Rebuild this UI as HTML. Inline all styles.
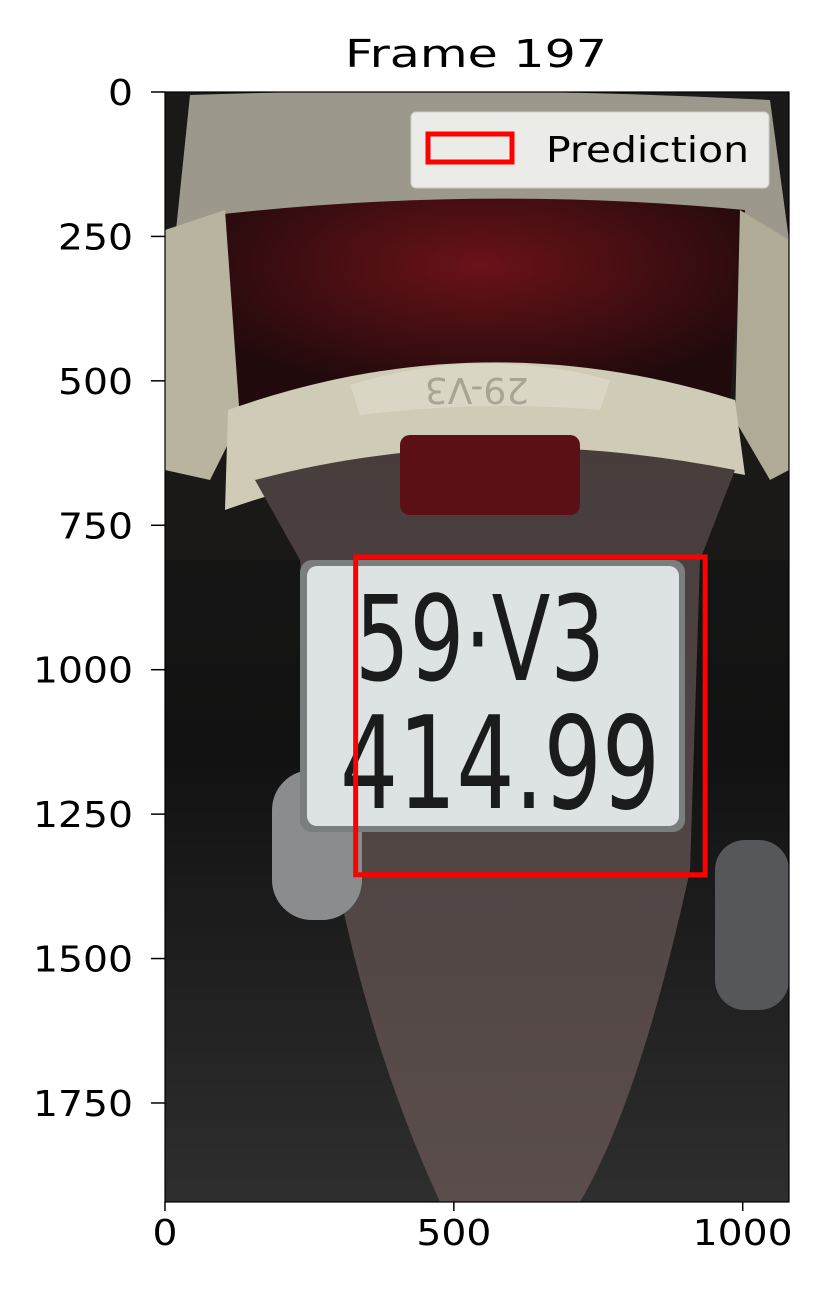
<!DOCTYPE html>
<html><head><meta charset="utf-8"><style>
html,body{margin:0;padding:0;background:#fff;}
svg{display:block;font-family:"DejaVu Sans","Liberation Sans",sans-serif;}
</style></head><body>
<svg width="825" height="1302" viewBox="0 0 825 1302">
<defs>
<linearGradient id="bg" x1="0" y1="0" x2="0" y2="1"><stop offset="0" stop-color="#1c1b19"/><stop offset="0.6" stop-color="#121212"/><stop offset="1" stop-color="#2e2e2e"/></linearGradient>
<linearGradient id="fender" x1="0" y1="0" x2="0" y2="1"><stop offset="0" stop-color="#473d3c"/><stop offset="1" stop-color="#5a4d4c"/></linearGradient>
<radialGradient id="red" cx="0.5" cy="0.3" r="0.6"><stop offset="0" stop-color="#6a1219"/><stop offset="1" stop-color="#200a0b"/></radialGradient>
<clipPath id="plot"><rect x="165" y="92" width="624" height="1110"/></clipPath>
</defs>
<text x="476" y="67" text-anchor="middle" font-size="38" textLength="262" lengthAdjust="spacingAndGlyphs">Frame 197</text>
<g clip-path="url(#plot)">
<rect x="165" y="92" width="624" height="1110" fill="url(#bg)"/>
<path d="M165 92 H789 V560 H165 Z" fill="#1a1918"/>
<path d="M190 95 Q480 85 770 100 L789 240 Q480 180 175 240 Z" fill="#9c998c"/>
<path d="M215 215 Q480 185 745 210 L730 400 Q480 330 235 420 Z" fill="url(#red)"/>
<path d="M165 230 L225 210 L240 420 L210 480 L165 470 Z" fill="#b8b4a0"/>
<path d="M789 240 L740 210 L735 420 L770 480 L789 470 Z" fill="#b0ab96"/>
<path d="M228 410 Q480 320 735 400 L745 475 Q480 420 225 510 Z" fill="#cfcbb6"/>
<path d="M350 385 Q480 345 610 380 L600 410 Q480 400 360 415 Z" fill="#d9d6c6"/>
<text x="477" y="402" text-anchor="middle" font-size="36" fill="#a8a496" transform="rotate(180 477 390)">29-V3</text>
<path d="M255 480 Q480 420 735 470 L700 560 L690 870 Q640 1100 580 1202 L440 1202 Q370 1050 335 870 L300 560 Z" fill="url(#fender)"/>
<rect x="400" y="435" width="180" height="80" rx="10" fill="#5a1015"/>
<rect x="272" y="770" width="90" height="150" rx="40" fill="#8a8c8e"/>
<rect x="715" y="840" width="74" height="170" rx="30" fill="#55575b"/>
<rect x="300" y="560" width="385" height="272" rx="12" fill="#7a7e7e"/>
<rect x="307" y="566" width="372" height="260" rx="10" fill="#dde2e2"/>
<text x="480" y="680" text-anchor="middle" font-size="118" fill="#1a1c1c" textLength="250" lengthAdjust="spacingAndGlyphs">59·V3</text>
<text x="500" y="808" text-anchor="middle" font-size="128" fill="#1a1c1c" textLength="320" lengthAdjust="spacingAndGlyphs">414.99</text>
</g>
<rect x="165" y="92" width="624" height="1110" fill="none" stroke="#000" stroke-width="1.2"/>
<g id="axes" font-size="36"></g>
<g id="boxes"></g>
<g>
<rect x="411" y="112" width="358" height="76" rx="5" fill="#fff" fill-opacity="0.8" stroke="#ccc"/>
<rect x="428" y="134" width="84" height="28" fill="none" stroke="#f00" stroke-width="5"/>
<text x="546" y="162" font-size="36" textLength="203" lengthAdjust="spacingAndGlyphs">Prediction</text>
</g>
<script>
const xTicks=[0,500,1000];
const yTicks=[0,250,500,750,1000,1250,1500,1750];
const boxX=[330,935];
const boxY=[805,1355];
const x0=165,y0=92,s=0.5777;
const X=v=>x0+v*s, Y=v=>y0+v*s;
const NS="http://www.w3.org/2000/svg";
const ax=document.getElementById('axes');
xTicks.forEach(t=>{
 const l=document.createElementNS(NS,'line');
 l.setAttribute('x1',X(t));l.setAttribute('x2',X(t));l.setAttribute('y1',1202);l.setAttribute('y2',1211);l.setAttribute('stroke','#000');l.setAttribute('stroke-width','1.5');
 
 
 ax.appendChild(l);
 const tx=document.createElementNS(NS,'text');
 tx.setAttribute('x',X(t));tx.setAttribute('y',1245);tx.setAttribute('text-anchor','middle');tx.textContent=t;
 tx.setAttribute('textLength',String(t).length*25);
 tx.setAttribute('lengthAdjust','spacingAndGlyphs');
 
 
 ax.appendChild(tx);
});
yTicks.forEach(t=>{
 const l=document.createElementNS(NS,'line');
 l.setAttribute('x1',151);l.setAttribute('x2',165);l.setAttribute('y1',Y(t));l.setAttribute('y2',Y(t));l.setAttribute('stroke','#000');l.setAttribute('stroke-width','1.5');
 
 
 ax.appendChild(l);
 const tx=document.createElementNS(NS,'text');
 tx.setAttribute('x',133);tx.setAttribute('y',Y(t)+13);tx.setAttribute('text-anchor','end');tx.textContent=t;
 tx.setAttribute('textLength',String(t).length*25);
 tx.setAttribute('lengthAdjust','spacingAndGlyphs');
 
 
 ax.appendChild(tx);
});
const r=document.createElementNS(NS,'rect');
r.setAttribute('x',X(boxX[0]));r.setAttribute('y',Y(boxY[0]));
r.setAttribute('width',(boxX[1]-boxX[0])*s);r.setAttribute('height',(boxY[1]-boxY[0])*s);
r.setAttribute('fill','none');r.setAttribute('stroke','#f00');r.setAttribute('stroke-width','5');


document.getElementById('boxes').appendChild(r);
</script>
</svg>
</body></html>
